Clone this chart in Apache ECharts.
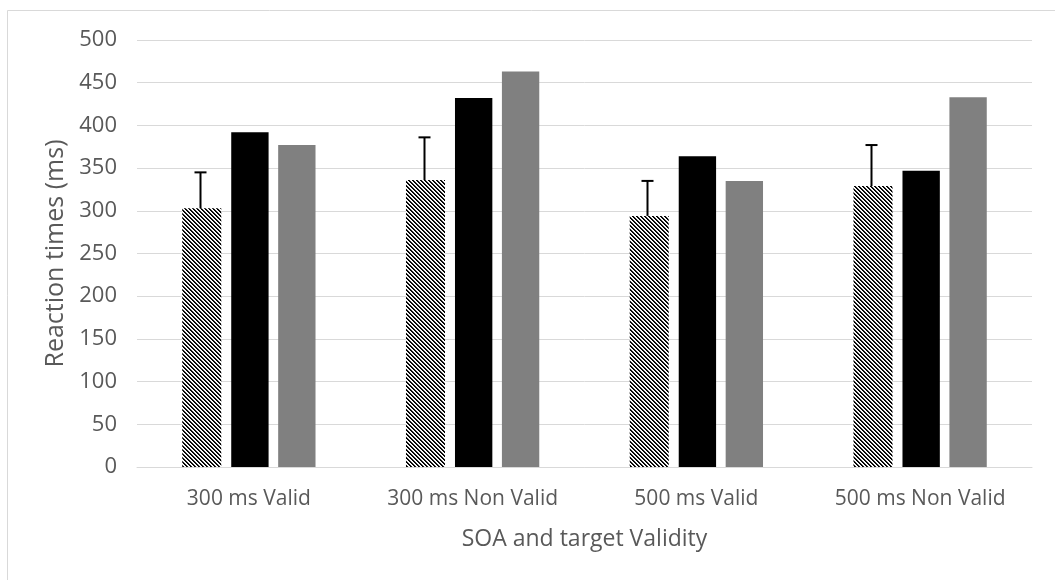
<!DOCTYPE html>
<html>
<head>
<meta charset="utf-8">
<script src="https://cdn.jsdelivr.net/npm/echarts@6/dist/echarts.min.js"></script>
<style>
html,body{margin:0;padding:0;background:#fff;}
#chart{width:1055px;height:580px;}
</style>
</head>
<body>
<div id="chart"></div>
<script>
const categories = ['300 ms Valid', '300 ms Non Valid', '500 ms Valid', '500 ms Non Valid'];
const hatchedValues = [303, 336, 294, 329];
const hatchedErrorTop = [345, 386, 335, 377];
const blackValues = [392, 432, 364, 347];
const grayValues = [377, 463, 335, 433];
const yTicks = { min: 0, max: 500, interval: 50 };

const FONT = '"Open Sans", sans-serif';
const TXT = '#595959';
const BAR_W = 39;
const GAP = 10;

// diagonal hatch pattern (backslash direction)
const pc = document.createElement('canvas');
pc.width = 4; pc.height = 4;
const pctx = pc.getContext('2d');
const img = pctx.createImageData(4, 4);
const shades = [0, 20, 235, 255];
for (let y = 0; y < 4; y++) {
  for (let x = 0; x < 4; x++) {
    const d = ((x - y) % 4 + 4) % 4;
    const v = shades[d];
    const i = (y * 4 + x) * 4;
    img.data[i] = v; img.data[i + 1] = v; img.data[i + 2] = v; img.data[i + 3] = 255;
  }
}
pctx.putImageData(img, 0, 0);

const chart = echarts.init(document.getElementById('chart'), null, { renderer: 'canvas' });
const errData = categories.map((c, i) => [i, hatchedValues[i], hatchedErrorTop[i]]);

chart.setOption({
  animation: false,
  backgroundColor: '#fff',
  textStyle: { fontFamily: FONT },
  graphic: [{
    type: 'polyline',
    silent: true,
    shape: { points: [[7.5, 600], [7.5, 10.5], [1100, 10.5]] },
    style: { stroke: '#d9d9d9', lineWidth: 1, fill: null }
  }],
  grid: { left: 137, right: 23, top: 40, bottom: 113 },
  xAxis: {
    type: 'category',
    data: categories,
    name: 'SOA and target Validity',
    nameLocation: 'middle',
    nameGap: 61,
    nameTextStyle: { color: TXT, fontSize: 23, fontFamily: FONT },
    axisLine: { lineStyle: { color: '#d9d9d9', width: 1 } },
    axisTick: { show: false },
    axisLabel: { color: TXT, fontSize: 21, fontFamily: FONT, margin: 22 }
  },
  yAxis: {
    type: 'value',
    min: yTicks.min, max: yTicks.max, interval: yTicks.interval,
    name: 'Reaction times (ms)',
    nameLocation: 'middle',
    nameGap: 66,
    nameTextStyle: { color: TXT, fontSize: 25, fontFamily: FONT },
    axisLine: { show: false },
    axisTick: { show: false },
    axisLabel: { color: TXT, fontSize: 22, fontFamily: FONT, margin: 20 },
    splitLine: { lineStyle: { color: '#d9d9d9', width: 1 } }
  },
  series: [
    {
      type: 'bar', name: 'hatched', data: hatchedValues,
      barWidth: BAR_W, barGap: (GAP / BAR_W * 100) + '%',
      itemStyle: { color: { image: pc, repeat: 'repeat' } }
    },
    {
      type: 'bar', name: 'black', data: blackValues,
      itemStyle: { color: '#000000' }
    },
    {
      type: 'bar', name: 'gray', data: grayValues,
      itemStyle: { color: '#808080' }
    },
    {
      type: 'custom', name: 'error', data: errData, z: 10,
      renderItem: function (params, api) {
        const x = api.value(0);
        const lo = api.coord([x, api.value(1)]);
        const hi = api.coord([x, api.value(2)]);
        const cx = Math.round(lo[0] - (BAR_W + GAP)) + 0.5;
        return {
          type: 'group',
          children: [
            { type: 'line', shape: { x1: cx, y1: lo[1], x2: cx, y2: hi[1] }, style: { stroke: '#000', lineWidth: 2 } },
            { type: 'line', shape: { x1: cx - 6, y1: hi[1], x2: cx + 6, y2: hi[1] }, style: { stroke: '#000', lineWidth: 2 } }
          ]
        };
      }
    }
  ]
});
</script>
</body>
</html>
